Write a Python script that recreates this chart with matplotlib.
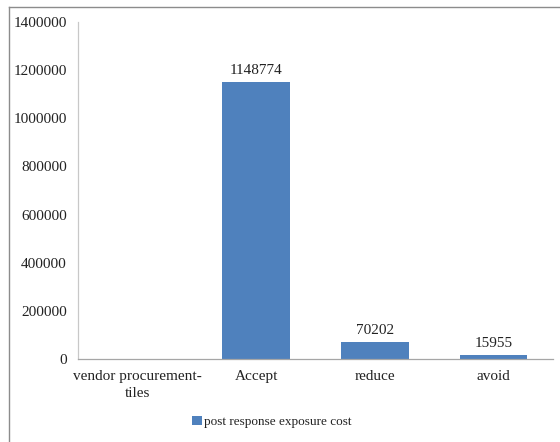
import matplotlib as mpl
mpl.use('Agg')
import numpy as np
import matplotlib.pyplot as plt
from matplotlib.lines import Line2D

categories = ['vendor procurement-\ntiles', 'Accept', 'reduce', 'avoid']
cost = [0, 1148774, 70202, 15955]
labels = ['', '1148774', '70202', '15955']
series = 'post response exposure cost'
yticks = [0, 200000, 400000, 600000, 800000, 1000000, 1200000, 1400000]

plt.rcParams['font.family'] = ['Liberation Serif', 'DejaVu Serif']
fontsize = 11
txt = '#222222'
blue = '#4f81bd'
grey = '#a6a6a6'

fig = plt.figure(figsize=(5.6, 4.42), dpi=100)
ax = fig.add_axes([0.1393, 0.1878, 0.8482, 0.7624])

x = np.arange(len(categories))
bars = ax.bar(x, cost, width=0.57, color=blue, label=series)

for xi, v, lab in zip(x, cost, labels):
    if lab:
        ax.annotate(lab, (xi, v), xytext=(0, 4), textcoords='offset points',
                    ha='center', va='bottom', fontsize=fontsize, color=txt)

ax.set_xlim(-0.5, len(categories) - 0.5)
ax.set_ylim(0, 1400000)
ax.set_yticks(yticks)
ax.set_yticklabels([str(t) for t in yticks], fontsize=fontsize, color=txt)
ax.set_xticks(x)
ax.set_xticklabels(categories, fontsize=fontsize, color=txt, linespacing=1.35)
ax.tick_params(axis='y', length=0, pad=8)
ax.tick_params(axis='x', length=0, pad=8)

for side in ['top', 'right']:
    ax.spines[side].set_visible(False)
ax.spines['left'].set_color('#c8c8c8')
ax.spines['bottom'].set_color(grey)
ax.spines['left'].set_linewidth(0.9)
ax.spines['bottom'].set_linewidth(0.9)

ax.legend(loc='center', bbox_to_anchor=(0.408, -0.187), frameon=False,
          fontsize=9.5, handlelength=0.7, handleheight=0.7,
          handletextpad=0.15, labelcolor=txt)

# outer chart border (left and top edges)
fig.add_artist(Line2D([8.5 / 560, 8.5 / 560], [0, 1 - 6.5 / 442],
                      transform=fig.transFigure, color='#8c8c8c', lw=1.0))
fig.add_artist(Line2D([8.5 / 560, 1], [1 - 6.5 / 442, 1 - 6.5 / 442],
                      transform=fig.transFigure, color='#8c8c8c', lw=1.0))

fig.savefig('out.png', dpi=100)
